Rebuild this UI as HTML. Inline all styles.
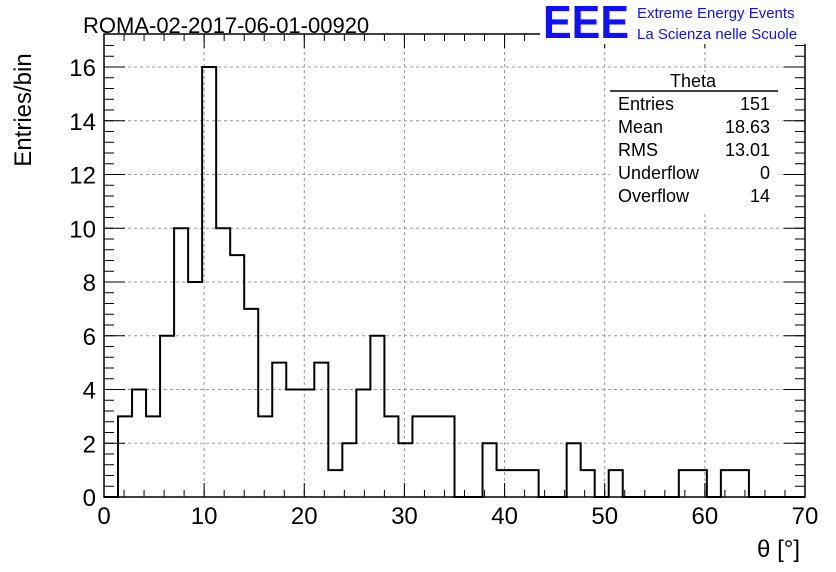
<!DOCTYPE html>
<html><head><meta charset="utf-8"><style>
body{margin:0;background:#fff;}
svg{display:block;font-family:"Liberation Sans",sans-serif;}
</style></head><body>
<svg id="c" width="836" height="572">
<rect x="0" y="0" width="836" height="572" fill="#fff"/>
<text x="83" y="33" font-size="22">ROMA-02-2017-06-01-00920</text>
<text transform="translate(31,110) rotate(-90)" text-anchor="middle" font-size="24">Entries/bin</text>
<text x="800" y="557" text-anchor="end" font-size="24">θ [°]</text>
<g id="grid"></g><g id="axes"></g><path id="hist" fill="none" stroke="#000" stroke-width="2"/>
<g font-size="18">
<rect x="610" y="72" width="168" height="140" fill="#fff"/>
<text x="693" y="87" text-anchor="middle">Theta</text>
<line x1="610" y1="91" x2="778" y2="91" stroke="#000" stroke-width="1.5"/>
<text x="618" y="110">Entries</text><text x="770" y="110" text-anchor="end">151</text>
<text x="618" y="133">Mean</text><text x="770" y="133" text-anchor="end">18.63</text>
<text x="618" y="156">RMS</text><text x="770" y="156" text-anchor="end">13.01</text>
<text x="618" y="179">Underflow</text><text x="770" y="179" text-anchor="end">0</text>
<text x="618" y="202">Overflow</text><text x="770" y="202" text-anchor="end">14</text>
</g>
<g>
<rect x="540" y="0" width="296" height="44" fill="#fff"/>
<text x="543" y="38" font-size="46" fill="#1010ff" font-weight="bold" textLength="86" lengthAdjust="spacingAndGlyphs">EEE</text>
<text x="637" y="18" font-size="15" fill="#1010ff">Extreme Energy Events</text>
<text x="637" y="39" font-size="15" fill="#1010ff">La Scienza nelle Scuole</text>
</g>
</svg>
<script>
const counts=[0,3,4,3,6,10,8,16,10,9,7,3,5,4,4,5,1,2,4,6,3,2,3,3,3,0,0,2,1,1,1,0,0,2,1,0,1,0,0,0,0,1,1,0,1,1,0,0,0,0];
const binWidth=1.4;
const xTicks=[0,10,20,30,40,50,60,70];
const yTicks=[0,2,4,6,8,10,12,14,16];
const X0=104,X1=805,Y0=497,Y1=34;
const sx=v=>X0+(v-0)/70*(X1-X0);
const sy=v=>Y0-(v/16)*(497-67);
const NS="http://www.w3.org/2000/svg";
const grid=document.getElementById('grid'),axes=document.getElementById('axes');
function ln(p,x1,y1,x2,y2,st,w,da,name){const l=document.createElementNS(NS,'line');l.setAttribute('x1',x1);l.setAttribute('y1',y1);l.setAttribute('x2',x2);l.setAttribute('y2',y2);l.setAttribute('stroke',st);l.setAttribute('stroke-width',w);if(da)l.setAttribute('stroke-dasharray',da);


p.appendChild(l);}
function tx(x,y,s,a,name){const t=document.createElementNS(NS,'text');t.setAttribute('x',x);t.setAttribute('y',y);t.setAttribute('text-anchor',a);t.setAttribute('font-size','24');t.textContent=s;


axes.appendChild(t);}
xTicks.forEach(v=>{const x=sx(v);if(v>0&&v<70)ln(grid,x,Y1,x,Y0,'#999',1,'3,3','x-gridline');
ln(axes,x,Y0,x,Y0-14,'#000',1,null,'x-major-tick');ln(axes,x,Y1,x,Y1+14,'#000',1,null,'x-major-tick');tx(x,524,String(v),'middle','x-tick-label');});
for(let v=0;v<=70;v+=2){const x=sx(v);ln(axes,x,Y0,x,Y0-7,'#000',1,null,'x-minor-tick');ln(axes,x,Y1,x,Y1+7,'#000',1,null,'x-minor-tick');}
yTicks.forEach(v=>{const y=sy(v);if(v>0)ln(grid,X0,y,X1,y,'#999',1,'3,3','y-gridline');
ln(axes,X0,y,X0+21,y,'#000',1,null,'y-major-tick');ln(axes,X1,y,X1-21,y,'#000',1,null,'y-major-tick');tx(96,y+9,String(v),'end','y-tick-label');});
for(let v=0;v<=17;v+=0.4){const y=sy(v);if(y<Y1)break;ln(axes,X0,y,X0+10,y,'#000',1,null,'y-minor-tick');ln(axes,X1,y,X1-10,y,'#000',1,null,'y-minor-tick');}
const fr=document.createElementNS(NS,'rect');fr.setAttribute('x',X0);fr.setAttribute('y',Y1);fr.setAttribute('width',X1-X0);fr.setAttribute('height',Y0-Y1);fr.setAttribute('fill','none');fr.setAttribute('stroke','#000');fr.setAttribute('stroke-width','1.5');


axes.appendChild(fr);
let d='M'+sx(0)+','+sy(0);
counts.forEach((c,i)=>{d+=' L'+sx(i*binWidth)+','+sy(c)+' L'+sx((i+1)*binWidth)+','+sy(c);});
d+=' L'+sx(counts.length*binWidth)+','+sy(0);
document.getElementById('hist').setAttribute('d',d);
</script>
</body></html>
